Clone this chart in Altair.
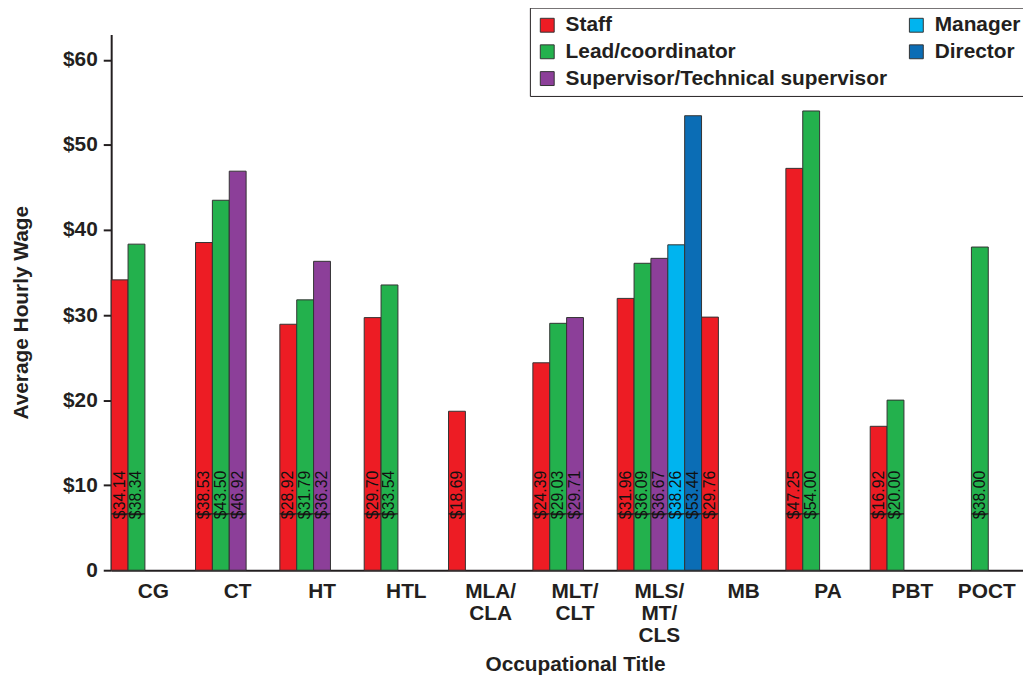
import altair as alt
import pandas as pd

categories = ["CG", "CT", "HT", "HTL", "MLA/CLA", "MLT/CLT", "MLS/MT/CLS", "MB", "PA", "PBT", "POCT"]
roles = ["Staff", "Lead/coordinator", "Supervisor/Technical supervisor", "Manager", "Director"]
role_colors = ["#ed1c24", "#23b14d", "#8c3f99", "#00b4ef", "#0b6db5"]

staff = [34.14, 38.53, 28.92, 29.70, 18.69, 24.39, 31.96, 29.76, 47.25, 16.92, None]
lead = [38.34, 43.50, 31.79, 33.54, None, 29.03, 36.09, None, 54.00, 20.00, 38.00]
supervisor = [None, 46.92, 36.32, None, None, 29.71, 36.67, None, None, None, None]
manager = [None, None, None, None, None, None, 38.26, None, None, None, None]
director = [None, None, None, None, None, None, 53.44, None, None, None, None]

series = dict(zip(roles, [staff, lead, supervisor, manager, director]))
rows = []
for role, vals in series.items():
    for cat, v in zip(categories, vals):
        if v is not None:
            rows.append({"cat": cat, "role": role, "wage": v})
df = pd.DataFrame(rows)

FONT = "Liberation Sans"
INK = "#231f20"

x_enc = alt.X(
    "cat:N",
    sort=categories,
    scale=alt.Scale(paddingInner=0, paddingOuter=0, range=[0, 935]),
    axis=alt.Axis(
        title="Occupational Title",
        labelAngle=0,
        ticks=False,
        labelPadding=11,
        labelLineHeight=22,
        labelOverlap=False,
        labelBound=False,
        labelOffset={"condition": {"test": "datum.value == 'POCT'", "value": -10}, "value": 0},
        labelExpr="split(replace(datum.label, regexp('/', 'g'), '/|'), '|')",
        titleBaseline="alphabetic",
        titleY=101,
    ),
)
xoff = alt.XOffset("role:N", sort=roles, scale=alt.Scale(domain=roles, paddingInner=0, paddingOuter=0))

bars = alt.Chart(df).mark_bar(stroke="#333333", strokeWidth=1).encode(
    x=x_enc,
    xOffset=xoff,
    y=alt.Y(
        "wage:Q",
        scale=alt.Scale(domain=[0, 63], nice=False),
        axis=alt.Axis(
            title="Average Hourly Wage",
            values=[0, 10, 20, 30, 40, 50, 60],
            labelExpr="datum.value == 0 ? '0' : '$' + datum.value",
            grid=False,
            tickSize=8,
            tickWidth=2,
            labelPadding=6,
            titleX=-80,
            titleY=280,
        ),
    ),
    color=alt.Color(
        "role:N",
        sort=roles,
        scale=alt.Scale(domain=roles, range=role_colors),
        legend=alt.Legend(
            title=None,
            orient="none",
            legendX=422,
            legendY=-27,
            columns=2,
            columnPadding=18,
            rowPadding=5,
            symbolType="square",
            symbolSize=196,
            symbolStrokeColor="#333333",
            symbolStrokeWidth=1,
            labelOffset=8,
            labelFontSize=21,
            labelFont=FONT,
            labelFontWeight="bold",
            labelColor=INK,
            labelLimit=400,
            padding=7,
            strokeColor=INK,
            fillColor="white",
        ),
    ),
)

labels = alt.Chart(df).mark_text(
    angle=270, align="left", baseline="middle", fontSize=16, font=FONT, color="#111111"
).encode(
    x=alt.X("cat:N", sort=categories),
    xOffset=alt.XOffset("role:N", sort=roles),
    y=alt.datum(6),
    text=alt.Text("wage:Q", format="$.2f"),
)

strike = alt.Chart(df).mark_bar(color=INK).encode(
    x=alt.X("cat:N", sort=categories),
    xOffset=alt.XOffset("role:N", sort=roles),
    y=alt.datum(6.55),
    y2=alt.datum(6.7),
)

chart = (
    alt.layer(bars, strike, labels)
    .properties(
        width=919,
        height=540,
        padding={"left": 104, "top": 24, "right": 0, "bottom": 105},
        autosize=alt.AutoSizeParams(type="none"),
    )
    .configure_view(stroke=None)
    .configure_axis(
        labelFont=FONT,
        titleFont=FONT,
        labelFontSize=21,
        titleFontSize=21,
        labelFontWeight="bold",
        titleFontWeight="bold",
        labelColor=INK,
        titleColor=INK,
        domainColor=INK,
        domainWidth=2,
        tickColor=INK,
    )
)

chart.save("out.html", embed_options={"renderer": "svg", "actions": False})
